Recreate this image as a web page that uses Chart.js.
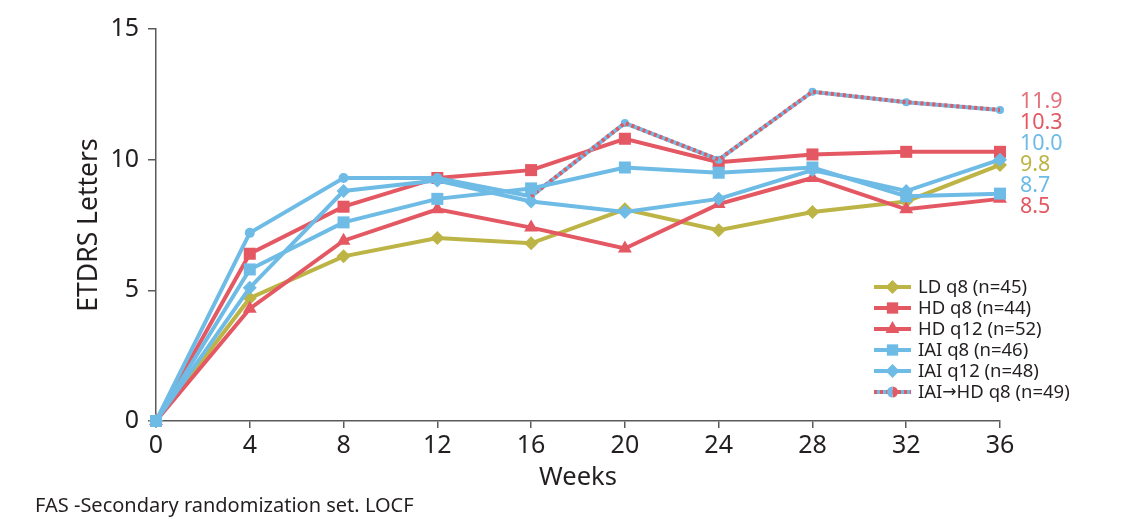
<!DOCTYPE html>
<html>
<head>
<meta charset="utf-8">
<script src="https://cdn.jsdelivr.net/npm/chart.js@4/dist/chart.umd.min.js"></script>
<style>
html,body{margin:0;padding:0;background:#fff}
#wrap{width:1122px;height:519px}
</style>
</head>
<body>
<div id="wrap"><canvas id="c" width="1122" height="519"></canvas></div>
<script>
// weeks on the x axis
var weeks = [0, 4, 8, 12, 16, 20, 24, 28, 32, 36];

// mean change in ETDRS letters
var ldQ8   = [0, 4.7, 6.3, 7.0, 6.8, 8.1, 7.3, 8.0, 8.4, 9.8];
var hdQ8   = [0, 6.4, 8.2, 9.3, 9.6, 10.8, 9.9, 10.2, 10.3, 10.3];
var hdQ12  = [0, 4.3, 6.9, 8.1, 7.4, 6.6, 8.3, 9.3, 8.1, 8.5];
var iaiQ8  = [0, 5.8, 7.6, 8.5, 8.9, 9.7, 9.5, 9.7, 8.6, 8.7];
var iaiQ12 = [0, 5.1, 8.8, 9.2, 8.4, 8.0, 8.5, 9.6, 8.8, 10.0];
var iaiHd  = [0, 7.2, 9.3, 9.3, 8.6, 11.4, 10.0, 12.6, 12.2, 11.9];

var labels = ['LD q8 (n=45)', 'HD q8 (n=44)', 'HD q12 (n=52)', 'IAI q8 (n=46)', 'IAI q12 (n=48)', 'IAI\u2192HD q8 (n=49)'];
var switchIndex = 4; // dashed from week 16 on

var RED = '#e35862', BLUE = '#6ebbe6', OLIVE = '#bdb446';
var FONT = '"Noto Sans", "Open Sans", sans-serif';
var TXT = '#231f20', AXIS = '#5a5a5a';

function pts(arr) {
	return weeks.map(function(w, i){ return {x: w, y: arr[i]}; });
}

function line(label, arr, color, style, radius) {
	return {
		label: label, data: pts(arr),
		borderColor: color, backgroundColor: color,
		borderWidth: 4, pointStyle: style, pointRadius: radius,
		pointBorderWidth: 0, pointHoverRadius: radius,
		clip: false, tension: 0
	};
}

var dsLd = line(labels[0], ldQ8, OLIVE, 'rectRot', 7);
var dsHd8 = line(labels[1], hdQ8, RED, 'rect', 8.5);
var dsHd12 = line(labels[2], hdQ12, RED, 'triangle', 8);
var dsIai8 = line(labels[3], iaiQ8, BLUE, 'rect', 8.5);
var dsIai12 = line(labels[4], iaiQ12, BLUE, 'rectRot', 7);
var dsSwitch = line(labels[5], iaiHd, BLUE, 'circle', 5);
dsSwitch.pointRadius = function(c){ return c.dataIndex <= switchIndex - 1 ? 5 : 4; };
// red dashes laid over the blue line after the switch
var dsSwitchDash = line('', iaiHd, RED, 'circle', 0);
dsSwitchDash.segment = {
	borderColor: function(c){ return c.p0DataIndex >= switchIndex ? RED : 'rgba(0,0,0,0)'; },
	borderDash: function(c){ return [3, 3]; }
};

// lower index is drawn on top
var datasets = [dsIai8, dsSwitchDash, dsSwitch, dsIai12, dsHd8, dsHd12, dsLd];
var legendOrder = [dsLd, dsHd8, dsHd12, dsIai8, dsIai12, dsSwitch];
var endColors = {};
endColors[labels[0]] = OLIVE; endColors[labels[1]] = RED; endColors[labels[2]] = RED;
endColors[labels[3]] = BLUE; endColors[labels[4]] = BLUE; endColors[labels[5]] = '#e3707a';

function marker(ctx, style, x, y, r, color) {
	ctx.fillStyle = color;
	ctx.beginPath();
	if (style === 'rect') {
		var s = r * Math.SQRT1_2;
		ctx.rect(x - s, y - s, 2 * s, 2 * s);
	} else if (style === 'rectRot') {
		ctx.moveTo(x, y - r); ctx.lineTo(x + r, y); ctx.lineTo(x, y + r); ctx.lineTo(x - r, y);
		ctx.closePath();
	} else if (style === 'triangle') {
		ctx.moveTo(x, y - r); ctx.lineTo(x + r * 0.866, y + r * 0.5); ctx.lineTo(x - r * 0.866, y + r * 0.5);
		ctx.closePath();
	} else {
		ctx.arc(x, y, r, 0, Math.PI * 2);
	}
	ctx.fill();
}

// text with the arrow taken from a font where it is full size
function labelText(ctx, text, x, y) {
	var parts = text.split('\u2192');
	var base = '18.5px ' + FONT;
	parts.forEach(function(p, i){
		if (i > 0) {
			ctx.font = '17px "DejaVu Sans", sans-serif';
			ctx.fillText('\u2192', x, y);
			x += ctx.measureText('\u2192').width;
		}
		ctx.font = base;
		ctx.fillText(p, x, y);
		x += ctx.measureText(p).width;
	});
}

var extras = {
	id: 'extras',
	afterDraw: function(chart) {
		var ctx = chart.ctx, xs = chart.scales.x, ys = chart.scales.y;
		ctx.save();

		// value labels at the end of each line, stacked
		var ends = legendOrder.map(function(d){ return {label: d.label, v: d.data[d.data.length - 1].y}; });
		ends.sort(function(a, b){ return b.v - a.v; });
		var y0 = ys.getPixelForValue(ends[0].v) - 8;
		ctx.font = '21.5px ' + FONT;
		ctx.textAlign = 'left';
		ctx.textBaseline = 'middle';
		ends.forEach(function(e, i){
			ctx.fillStyle = endColors[e.label];
			ctx.fillText(e.v.toFixed(1), xs.getPixelForValue(36) + 20, y0 + i * 21);
		});

		// legend
		var lx = 874, ly = 287;
		legendOrder.forEach(function(d, i){
			var y = ly + i * 21;
			ctx.lineWidth = 4;
			ctx.strokeStyle = d.borderColor;
			ctx.setLineDash([]);
			ctx.beginPath(); ctx.moveTo(lx, y); ctx.lineTo(lx + 37, y); ctx.stroke();
			if (d === dsSwitch) {
				ctx.strokeStyle = RED; ctx.setLineDash([3, 3]);
				ctx.beginPath(); ctx.moveTo(lx, y); ctx.lineTo(lx + 37, y); ctx.stroke();
				ctx.setLineDash([]);
				ctx.save();
				ctx.beginPath(); ctx.rect(lx + 18.5, y - 8, 10, 16); ctx.clip();
				marker(ctx, 'circle', lx + 18.5, y, 5.5, RED);
				ctx.restore();
				ctx.save();
				ctx.beginPath(); ctx.rect(lx + 8.5, y - 8, 10, 16); ctx.clip();
				marker(ctx, 'circle', lx + 18.5, y, 5.5, BLUE);
				ctx.restore();
			} else {
				marker(ctx, d.pointStyle, lx + 18.5, y, d.pointStyle === 'rectRot' ? 7 : 8, d.borderColor);
			}
			ctx.fillStyle = TXT;
			labelText(ctx, d.label, lx + 44, y + 1);
		});

		// footnote
		ctx.font = '20px ' + FONT;
		ctx.fillStyle = TXT;
		ctx.fillText('FAS -Secondary randomization set. LOCF', 35, 506);
		ctx.restore();
	}
};

new Chart(document.getElementById('c'), {
	type: 'line',
	data: {datasets: datasets},
	options: {
		responsive: false,
		animation: false,
		devicePixelRatio: 1,
		layout: {padding: {left: 0, right: 122, top: 29, bottom: 0}},
		plugins: {legend: {display: false}, tooltip: {enabled: false}},
		scales: {
			x: {
				type: 'linear', min: 0, max: 36,
				afterFit: function(s){ s.height = 98; },
				ticks: {stepSize: 4, color: TXT, padding: 3, font: {family: FONT, size: 25}},
				grid: {drawOnChartArea: false, tickLength: 7, color: AXIS, lineWidth: 1.5},
				border: {color: AXIS, width: 1.5},
				title: {display: true, text: 'Weeks', color: TXT, font: {family: FONT, size: 25.5}, padding: {top: 0, bottom: 26}}
			},
			y: {
				min: 0, max: 15,
				afterFit: function(s){ s.width = 156; },
				ticks: {stepSize: 5, color: TXT, padding: 9, font: {family: FONT, size: 25}},
				grid: {drawOnChartArea: false, tickLength: 8, color: AXIS, lineWidth: 1.5},
				border: {color: AXIS, width: 1.5},
				title: {display: true, text: 'ETDRS Letters', color: TXT, font: {family: FONT, size: 26.5}, padding: {top: 74, bottom: 0}}
			}
		}
	},
	plugins: [extras]
});
</script>
</body>
</html>
